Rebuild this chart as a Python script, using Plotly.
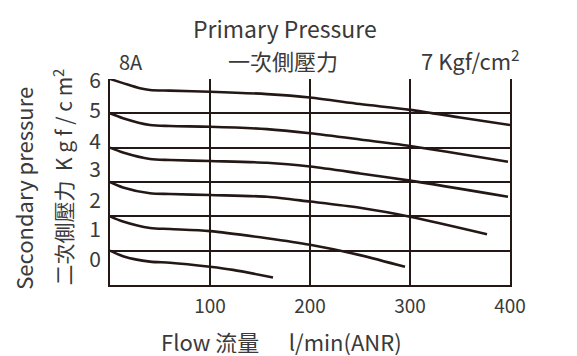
"""
Pressure characteristics chart (secondary pressure vs flow)
"""
import plotly.graph_objects as go

# Flow points (l/min ANR) and secondary pressure for each primary-pressure curve
FLOW_A = [0, 13, 30, 40, 60, 100, 157, 200, 250, 300, 350, 400]
CURVE_6 = [6.0, 5.88, 5.73, 5.68, 5.66, 5.63, 5.56, 5.46, 5.27, 5.10, 4.88, 4.66]

FLOW_B = [0, 13, 40, 60, 100, 157, 200, 250, 300, 398]
CURVE_5 = [5.0, 4.86, 4.66, 4.63, 4.61, 4.54, 4.42, 4.24, 4.05, 3.59]
CURVE_4 = [4.0, 3.86, 3.67, 3.64, 3.61, 3.56, 3.45, 3.25, 3.04, 2.57]

FLOW_C = [0, 13, 40, 60, 100, 157, 200, 250, 300, 377]
CURVE_3 = [3.0, 2.84, 2.67, 2.65, 2.62, 2.57, 2.43, 2.25, 1.99, 1.48]

FLOW_D = [0, 13, 40, 60, 100, 157, 200, 250, 295]
CURVE_2 = [2.0, 1.85, 1.66, 1.63, 1.57, 1.36, 1.17, 0.87, 0.53]

FLOW_E = [0, 13, 40, 60, 100, 123, 163]
CURVE_1 = [1.0, 0.84, 0.68, 0.65, 0.53, 0.44, 0.22]

# Tick labels as printed (they sit slightly off the grid in the original)
Y_TICK_POS = [0.75, 1.60, 2.46, 3.35, 4.17, 5.07, 5.94]
Y_TICK_TEXT = ["0", "1", "2", "3", "4", "5", "6"]
Y_GRID = [1, 2, 3, 4, 5]
X_TICKS = [100, 200, 300, 400]

LINE_COLOR = '#231815'
TEXT_COLOR = '#3a3a3a'
FONT = 'Noto Sans CJK TC'
NBSP = '\u00a0'

fig = go.Figure()

series = [
    (FLOW_A, CURVE_6),
    (FLOW_B, CURVE_5),
    (FLOW_B, CURVE_4),
    (FLOW_C, CURVE_3),
    (FLOW_D, CURVE_2),
    (FLOW_E, CURVE_1),
]
for xs, ys in series:
    fig.add_trace(go.Scatter(
        x=xs, y=ys, mode='lines',
        line=dict(color=LINE_COLOR, width=2.6, shape='spline', smoothing=0.8),
        showlegend=False, hoverinfo='skip'
    ))

# the page body adds an 8px offset, so the figure is a little smaller than the window
fig.update_layout(
    width=569, height=348,
    margin=dict(l=102, r=67, t=71, b=71),
    plot_bgcolor='white', paper_bgcolor='white',
    font=dict(family=FONT, color=TEXT_COLOR, size=19),
    showlegend=False,
)

fig.update_xaxes(
    range=[0, 400], tickvals=X_TICKS, ticktext=[str(v) for v in X_TICKS],
    showgrid=True, gridcolor=LINE_COLOR, gridwidth=1.5,
    showline=True, linecolor=LINE_COLOR, linewidth=2,
    zeroline=False, ticks='', ticklabelstandoff=3,
    tickfont=dict(size=19, color=TEXT_COLOR),
)
fig.update_yaxes(
    range=[0, 6], tickvals=Y_TICK_POS, ticktext=Y_TICK_TEXT,
    showgrid=False,
    minor=dict(tickvals=Y_GRID, showgrid=True, gridcolor=LINE_COLOR,
               gridwidth=1.5, ticks=''),
    showline=True, mirror=True, linecolor=LINE_COLOR, linewidth=2,
    zeroline=False, ticks='', ticklabelstandoff=3,
    tickfont=dict(size=21, color=TEXT_COLOR),
)

texts = [
    ("Primary Pressure", 0.4375, 1.2476, 0, 23),
    ("一次側壓力", 0.4325, 1.092, 0, 22),
    ("8A", 0.0525, 1.083, 0, 20),
    ("7 Kgf/cm<sup>2</sup>", 0.901, 1.095, 0, 22),
    ("Secondary pressure", -0.218, 0.471, -90, 22),
    ("二次側壓力  K g f / c m<sup>2</sup>", -0.1175, 0.522, -90, 21),
    ("Flow 流量" + NBSP * 6 + "l/min(ANR)", 0.429, -0.272, 0, 22),
]
for text, x, y, angle, size in texts:
    fig.add_annotation(
        text=text, x=x, y=y, xref='paper', yref='paper',
        xanchor='center', yanchor='middle', showarrow=False,
        textangle=angle, font=dict(family=FONT, size=size, color=TEXT_COLOR)
    )

fig.write_html("out.html")
